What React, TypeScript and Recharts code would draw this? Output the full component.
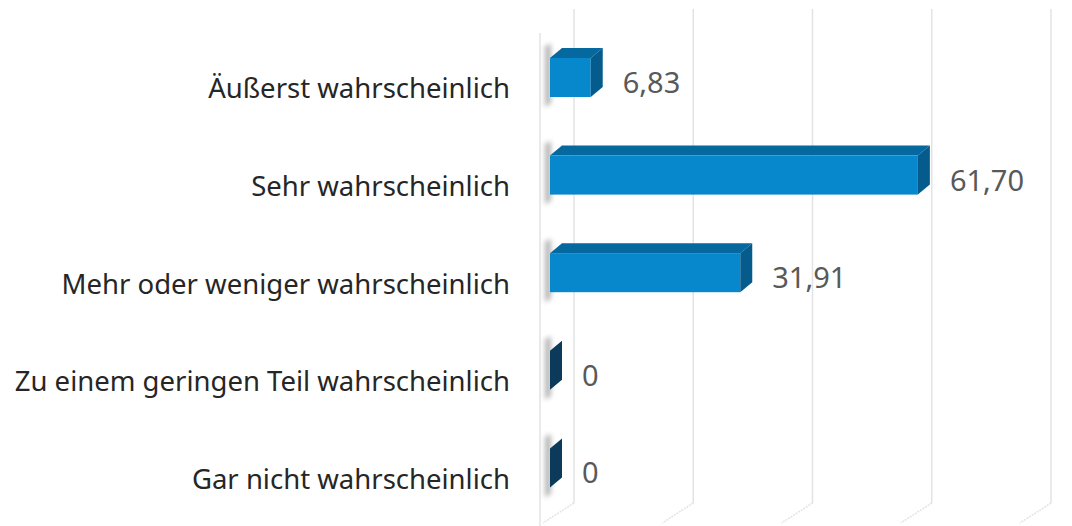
import { BarChart, Bar, XAxis, YAxis, CartesianGrid, LabelList } from "recharts";

if (typeof document !== "undefined") document.body.style.margin = "0";

const CATEGORIES = [
  "Äußerst wahrscheinlich",
  "Sehr wahrscheinlich",
  "Mehr oder weniger wahrscheinlich",
  "Zu einem geringen Teil wahrscheinlich",
  "Gar nicht wahrscheinlich",
];
const VALUES = [6.83, 61.7, 31.91, 0, 0];
const X_TICKS = [0, 20, 40, 60, 80];

const data = CATEGORIES.map((name, i) => ({ name, value: VALUES[i] }));

const FRONT = "#0888cc";
const TOP = "#05689f";
const SIDE = "#055b8c";
const ZERO_SIDE = "#0c3a5a";
const GRID = "#e3e3e3";
const FONT = "'Noto Sans', sans-serif";

// bar depth (3d look)
const DX = 12;
const DY = 10;

function fmt(v: number) {
  return v === 0 ? "0" : v.toFixed(2).replace(".", ",");
}

// back wall line + floor diagonal for every tick
function GridLine(props: any) {
  const { x1, y1, y2, index } = props;
  return (
    <g key={`g-${index}`}>
      {index === 0 && (
        <line x1={x1 - 10} y1={y1 + 4} x2={x1 - 10} y2={y2 + 12} stroke={GRID} strokeWidth={1.5} />
      )}
      <line x1={x1 + 24} y1={y1 - 20} x2={x1 + 24} y2={y2 - 14} stroke={GRID} strokeWidth={1.5} />
      <line x1={x1 + 24} y1={y2 - 14} x2={x1 - 7} y2={y2 + 6} stroke={GRID} strokeWidth={1.5} strokeDasharray="2 1" />
    </g>
  );
}

function Bar3D(props: any) {
  const { x, y, width, height } = props;
  const w = Math.max(0, width);
  const zero = w < 0.5;
  return (
    <g>
      <polygon
        points={`${x - 5},${y - 12} ${x + 1},${y - 14} ${x + 1},${y + height + 6} ${x - 5},${y + height + 10}`}
        fill="#7a7a7a"
        opacity={0.55}
        filter="url(#soft)"
      />
      {!zero && <rect x={x} y={y} width={w} height={height} fill={FRONT} />}
      {!zero && (
        <polygon
          points={`${x},${y} ${x + DX},${y - DY} ${x + w + DX},${y - DY} ${x + w},${y}`}
          fill={TOP}
        />
      )}
      <polygon
        points={`${x + w},${y} ${x + w + DX},${y - DY} ${x + w + DX},${y + height - DY} ${x + w},${y + height}`}
        fill={zero ? ZERO_SIDE : SIDE}
      />
    </g>
  );
}

function ValueLabel(props: any) {
  const { x, y, width, height, value } = props;
  return (
    <text
      x={x + Math.max(0, width) + 32}
      y={y + height / 2 + 4}
      fill="#595959"
      fontSize={29}
      fontFamily={FONT}
      dominantBaseline="central"
    >
      {fmt(Number(value))}
    </text>
  );
}

function CategoryTick(props: any) {
  const { x, y, payload } = props;
  return (
    <text
      x={x}
      y={y + 10}
      textAnchor="end"
      dominantBaseline="central"
      fill="#262626"
      fontSize={27.5}
      fontFamily={FONT}
    >
      {payload.value}
    </text>
  );
}

export default function App() {
  return (
    <div style={{ width: 1072, height: 526, background: "#fff" }}>
      <BarChart
        width={1072}
        height={526}
        data={data}
        layout="vertical"
        margin={{ top: 29, right: 45, bottom: 9, left: 0 }}
        barSize={39}
      >
        <defs>
          <filter id="soft" x="-2" y="-1" width="5" height="3">
            <feGaussianBlur stdDeviation="2.5" />
          </filter>
        </defs>
        <CartesianGrid horizontal={false} vertical={GridLine} />
        <XAxis type="number" domain={[0, 80]} ticks={X_TICKS} hide />
        <YAxis
          type="category"
          dataKey="name"
          width={550}
          axisLine={false}
          tickLine={false}
          tickSize={0}
          tickMargin={40}
          tick={CategoryTick}
        />
        <Bar dataKey="value" shape={Bar3D} isAnimationActive={false}>
          <LabelList dataKey="value" content={ValueLabel} />
        </Bar>
      </BarChart>
    </div>
  );
}
